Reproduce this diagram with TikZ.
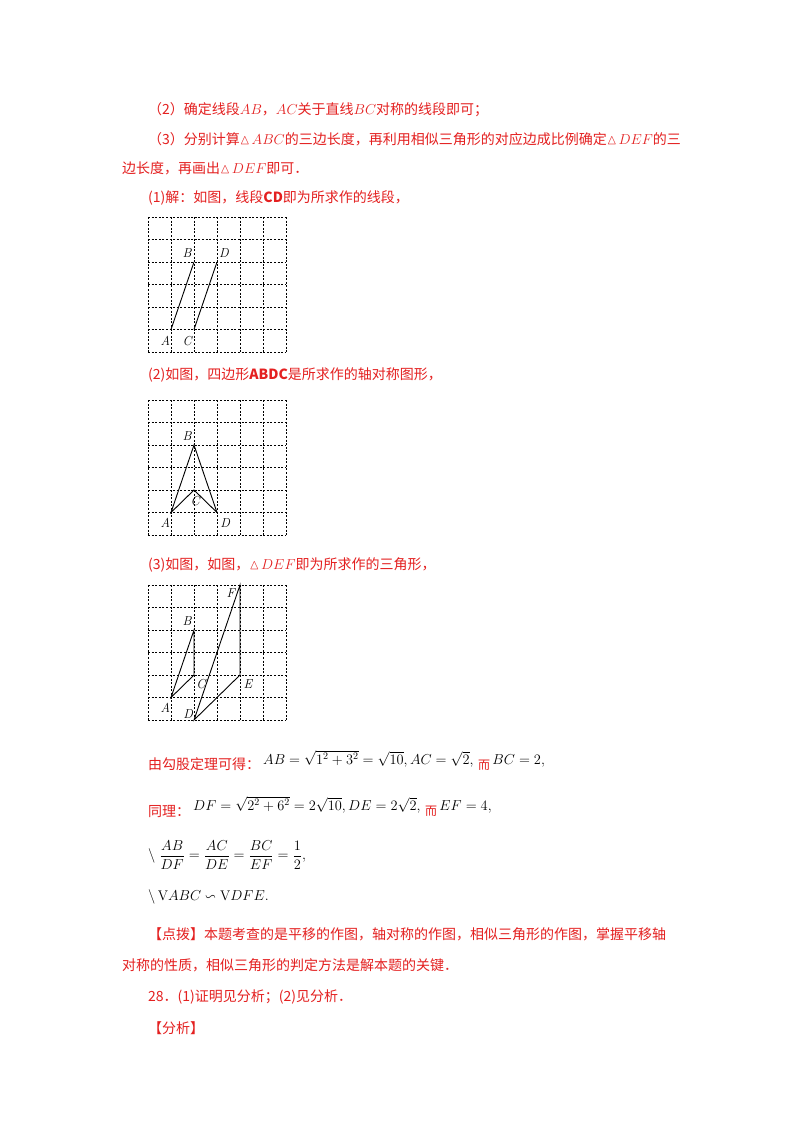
\documentclass[tikz,border=0pt]{standalone}
\usepackage{amsmath,amssymb}
\usepackage{fontspec}
\newfontfamily\cjk{Noto Sans CJK SC}
\definecolor{rd}{RGB}{228,32,32}
\begin{document}
\begin{tikzpicture}[x=1pt,y=-1pt,
  txt/.style={anchor=west,inner sep=0pt,font=\cjk\fontsize{14}{16}\selectfont},
  rt/.style={txt,text=rd},
  gridl/.style={line width=0.6pt,dash pattern=on 2pt off 1.6pt},
  seg/.style={line width=0.9pt},
  lab/.style={inner sep=0pt,font=\fontsize{13}{13}\selectfont\itshape}]
\fill[white] (0,0) rectangle (800,1132);
\useasboundingbox (0,0) rectangle (800,1132);
\node[rt] (t1) at (148,110) {（2）确定线段$AB$，$AC$关于直线$BC$对称的线段即可；};
\node[rt] (t2) at (148,139) {（3）分别计算$\vartriangle\! ABC$的三边长度，再利用相似三角形的对应边成比例确定$\vartriangle\! DEF$的三};
\node[rt] (t3) at (122,168) {边长度，再画出$\vartriangle\! DEF$即可．};
\node[rt] (t4) at (148,198) {(1)解：如图，线段\textbf{\textit{CD}}即为所求作的线段，};
% grid 1
\begin{scope}[shift={(148,217)},x={(23pt,0pt)},y={(0pt,-22.5pt)}]
\foreach \i in {0,...,6} {\draw[gridl] (\i,0)--(\i,6); \draw[gridl] (0,\i)--(6,\i);}
\coordinate (A) at (1,5); \coordinate (B) at (2,2); \coordinate (C) at (2,5); \coordinate (D) at (3,2);
\draw[seg] (A)--(B); \draw[seg] (C)--(D);
\node[lab] (la) at (0.75,5.5) {A}; \node[lab] (lc) at (1.7,5.5) {C};
\node[lab] (lb) at (1.7,1.6) {B}; \node[lab] (ld) at (3.3,1.6) {D};
\end{scope}
\node[rt] (t5) at (148,375) {(2)如图，四边形\textbf{\textit{ABDC}}是所求作的轴对称图形，};
% grid 2
\begin{scope}[shift={(148,400)},x={(23pt,0pt)},y={(0pt,-22.5pt)}]
\foreach \i in {0,...,6} {\draw[gridl] (\i,0)--(\i,6); \draw[gridl] (0,\i)--(6,\i);}
\coordinate (A) at (1,5); \coordinate (B) at (2,2); \coordinate (C) at (2,4); \coordinate (D) at (3,5);
\draw[seg] (A)--(B)--(D)--(C)--cycle;
\node[lab] (la2) at (0.75,5.45) {A}; \node[lab] (lc2) at (2.05,4.5) {C};
\node[lab] (lb2) at (1.7,1.6) {B}; \node[lab] (ld2) at (3.35,5.45) {D};
\end{scope}
\node[rt] (t6) at (148,565) {(3)如图，如图，$\vartriangle\! DEF$即为所求作的三角形，};
% grid 3
\begin{scope}[shift={(148,585)},x={(23pt,0pt)},y={(0pt,-22.5pt)}]
\foreach \i in {0,...,6} {\draw[gridl] (\i,0)--(\i,6); \draw[gridl] (0,\i)--(6,\i);}
\coordinate (A) at (1,5); \coordinate (B) at (2,2); \coordinate (C) at (2,4);
\coordinate (D) at (2,6); \coordinate (E) at (4,4); \coordinate (F) at (4,0);
\draw[seg] (A)--(B)--(C)--cycle; \draw[seg] (D)--(E)--(F)--cycle;
\node[lab] (la3) at (0.75,5.45) {A}; \node[lab] (lc3) at (2.3,4.4) {C};
\node[lab] (lb3) at (1.7,1.6) {B}; \node[lab] (ld3) at (1.75,5.75) {D};
\node[lab] (le3) at (4.35,4.4) {E}; \node[lab] (lf3) at (3.6,0.35) {F};
\end{scope}
\node[rt] (t7) at (148,764) {由勾股定理可得：};
\node[txt,anchor=base west] (f1) at (263,764) {$AB=\sqrt{1^2+3^2}=\sqrt{10},AC=\sqrt{2},$};
\node[rt,anchor=base west] (f1b) at ([xshift=4pt,yshift=-5pt]f1.base east) {\fontsize{12}{12}\selectfont 而};
\node[txt,anchor=base west] (f1c) at ([xshift=2pt]f1b.base east |- f1.base) {$BC=2,$};
\node[rt] (t8) at (148,812) {同理：};
\node[txt,anchor=base west] (f2) at (193,810) {$DF=\sqrt{2^2+6^2}=2\sqrt{10},DE=2\sqrt{2},$};
\node[rt,anchor=base west] (f2b) at ([xshift=4pt,yshift=-5pt]f2.base east) {\fontsize{12}{12}\selectfont 而};
\node[txt,anchor=base west] (f2c) at ([xshift=2pt]f2b.base east |- f2.base) {$EF=4,$};
\node[txt] (f3) at (148,855) {$\backslash\;\dfrac{AB}{DF}=\dfrac{AC}{DE}=\dfrac{BC}{EF}=\dfrac{1}{2},$};
\node[txt] (f4) at (148,897) {$\backslash\, \mathrm{V}ABC\backsim\mathrm{V}DFE.$};
\node[rt] (t9) at (148,934) {【点拨】本题考查的是平移的作图，轴对称的作图，相似三角形的作图，掌握平移轴};
\node[rt] (t10) at (122,965) {对称的性质，相似三角形的判定方法是解本题的关键．};
\node[rt] (t11) at (148,997) {28．(1)证明见分析；(2)见分析．};
\node[rt] (t12) at (148,1028) {【分析】};
\end{tikzpicture}
\end{document}
